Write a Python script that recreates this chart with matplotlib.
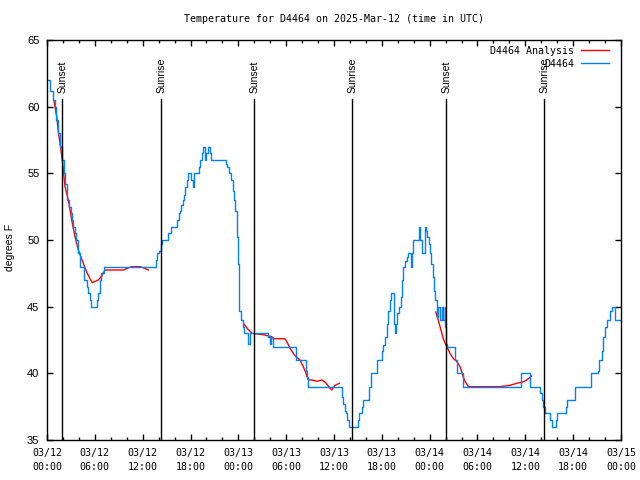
import matplotlib
matplotlib.use("Agg")
import matplotlib.pyplot as plt
import matplotlib.transforms as mtransforms
import numpy as np

# hours since 03/12 00:00 UTC and temperature (F), station readings
obs_hours = [0.13, 0.38, 0.75, 1.0, 1.19, 1.38, 1.63, 1.88, 2.07, 2.32, 2.57, 2.76, 2.95, 3.14,
             3.26, 3.51, 3.64, 3.83, 3.95, 4.14, 4.70, 5.02, 5.14, 5.39, 5.52, 6.27, 6.40, 6.59,
             6.77, 7.15, 13.67, 13.84, 14.09, 14.26, 14.39, 15.22, 15.52, 16.34, 16.52, 16.68,
             16.85, 17.02, 17.19, 17.35, 17.52, 17.69, 18.10, 18.28, 18.44, 19.07, 19.25, 19.44,
             19.63, 19.88, 19.99, 20.25, 20.45, 20.62, 22.45, 22.62, 22.79, 23.12, 23.30, 23.46,
             23.62, 23.80, 23.87, 23.96, 24.04, 24.12, 24.30, 24.62, 24.71, 25.21, 25.46, 27.76,
             27.97, 28.06, 28.39, 31.23, 32.49, 32.65, 32.78, 37.00, 37.17, 37.38, 37.51, 37.67,
             37.85, 39.05, 39.17, 39.48, 39.68, 40.43, 40.60, 41.36, 42.02, 42.18, 42.40, 42.61,
             42.81, 43.03, 43.11, 43.53, 43.65, 43.78, 43.94, 44.12, 44.37, 44.53, 44.69, 44.91,
             45.12, 45.28, 45.62, 45.79, 45.95, 46.63, 46.70, 46.85, 47.00, 47.29, 47.41, 47.54,
             47.70, 47.88, 48.04, 48.21, 48.38, 48.54, 48.71, 48.88, 49.05, 49.30, 49.51, 49.71,
             49.89, 49.96, 50.05, 50.21, 51.18, 51.39, 52.22, 59.42, 60.59, 61.84, 62.05, 62.26,
             62.47, 63.10, 63.31, 63.85, 64.01, 65.10, 65.27, 66.23, 68.20, 69.12, 69.28, 69.62,
             69.78, 69.99, 70.21, 70.62, 70.83, 71.25, 72.0]
obs_temps = [62, 61.2, 60.5, 60, 59, 58, 57, 56, 55, 54.2, 53, 52.5, 52, 51.5,
             51, 50.5, 50, 49.5, 49, 48, 47, 46.5, 46, 45.5, 45, 45.5, 46, 47,
             47.5, 48, 48.5, 49, 49.2, 49.7, 50, 50.5, 51, 51.5, 52, 52.2,
             52.6, 53, 53.4, 54, 54.5, 55, 54.5, 54, 55, 55.5, 56, 56.5,
             57, 56, 56.5, 57, 56.5, 56, 55.7, 55.5, 55, 54.5, 53.7, 53,
             52.2, 51.5, 50.2, 48.2, 46.7, 44.7, 44, 43.5, 43, 42.2, 43, 42.7,
             42.2, 42.7, 42, 41, 40.2, 39.7, 39, 38.2, 37.7, 37.2, 37, 36.5,
             36, 36.5, 37, 37.5, 38, 39, 40, 41, 41.7, 42.1, 42.7, 43.7,
             44.7, 45.5, 46, 43.7, 43, 43.7, 44.5, 45, 45.7, 47, 48, 48.4,
             48.7, 49, 48, 49, 50, 50.7, 51, 50, 49, 49, 51, 50.7,
             50.2, 49.7, 49, 48.2, 47.2, 46.2, 45.5, 44.2, 45, 44, 45, 44,
             45, 43.5, 42.2, 42, 41, 40, 39, 40, 39, 38.5, 38, 37.5,
             37, 36.5, 36, 36.5, 37, 37.5, 38, 39, 40, 40.2, 41, 41.7,
             42.7, 43.5, 44, 44.7, 45, 44, 44]

# analysis curve, three overnight pieces
ana1_hours = [0.88, 1.22, 1.44, 1.72, 1.97, 2.26, 2.67, 3.10, 3.51, 3.93, 4.55, 4.98, 5.39,
              5.68, 6.44, 6.86, 7.28, 9.57, 10.16, 10.62, 11.67, 12.17, 12.71]
ana1_temps = [60.4, 59.25, 58, 56.9, 55.75, 54, 53, 51.5, 50.25, 49.25, 48.25, 47.6, 47.1,
              46.8, 47, 47.3, 47.75, 47.75, 47.9, 48, 48, 47.9, 47.75]
ana2_hours = [24.71, 25.21, 25.72, 27.10, 28.19, 28.39, 29.85, 30.23, 30.48, 30.90, 31.23,
              31.74, 32.15, 32.49, 32.78, 33.24, 33.87, 34.46, 34.87, 35.29, 35.71, 36.13, 36.67]
ana2_temps = [43.7, 43.3, 43, 42.9, 42.75, 42.6, 42.6, 42.2, 41.9, 41.5, 41.25,
              41, 40.5, 40, 39.5, 39.5, 39.4, 39.5, 39.35, 39.05, 38.75, 39.1, 39.25]
ana3_hours = [48.76, 49.08, 49.30, 49.71, 50.14, 50.55, 50.97, 51.39, 51.81, 52.02, 52.22,
              52.43, 52.85, 56.82, 58.07, 58.91, 59.70, 60.17, 60.80]
ana3_temps = [44.6, 44, 43.5, 42.6, 42, 41.5, 41.1, 40.9, 40.5, 40.1, 39.75,
              39.4, 39, 39, 39.1, 39.25, 39.35, 39.5, 39.8]

sun_hours = [1.92, 14.34, 26.0, 38.3, 50.09, 62.38]
sun_labels = ['Sunset', 'Sunrise', 'Sunset', 'Sunrise', 'Sunset', 'Sunrise']

tick_hours = list(range(0, 73, 6))
tick_labels = ['03/12\n00:00', '03/12\n06:00', '03/12\n12:00', '03/12\n18:00',
               '03/13\n00:00', '03/13\n06:00', '03/13\n12:00', '03/13\n18:00',
               '03/14\n00:00', '03/14\n06:00', '03/14\n12:00', '03/14\n18:00',
               '03/15\n00:00']

mono = 'DejaVu Sans Mono'
sans = 'Liberation Sans'
plt.rcParams['font.family'] = [mono]
plt.rcParams['font.size'] = 7.2

fig = plt.figure(figsize=(6.4, 4.8), dpi=100)
ax = fig.add_axes([47 / 640, 40 / 480, 574 / 640, 400 / 480])

red = '#ff0000'
blue = '#0080ff'
ax.plot(ana1_hours, ana1_temps, color=red, lw=1, label='D4464 Analysis')
ax.plot(ana2_hours, ana2_temps, color=red, lw=1)
ax.plot(ana3_hours, ana3_temps, color=red, lw=1)
ax.plot(obs_hours, obs_temps, color=blue, lw=1, drawstyle='steps-post', label='D4464')

trans = mtransforms.blended_transform_factory(ax.transData, ax.transAxes)
for h, lab in zip(sun_hours, sun_labels):
    ax.plot([h, h], [0, 0.8525], color='black', lw=1, transform=trans)
    ax.text(h, 0.868, lab, rotation=90, ha='center', va='bottom', transform=trans,
            family=sans, fontsize=7.5)

ax.set_xlim(0, 72)
ax.set_ylim(35, 65)
ax.set_xticks(tick_hours)
ax.set_xticklabels(tick_labels, linespacing=1.5)
ax.set_xticks(np.arange(0, 73, 2), minor=True)
ax.set_yticks(np.arange(35, 66, 5))
for lab in ax.get_yticklabels():
    lab.set_family(sans)
    lab.set_fontsize(8)
ax.tick_params(which='both', direction='in', top=True, right=True, width=1)
ax.tick_params(which='major', length=4.5)
ax.tick_params(which='minor', length=2.5)
ax.tick_params(axis='x', which='major', pad=6)
ax.tick_params(axis='y', pad=5.5)
for sp in ax.spines.values():
    sp.set_linewidth(1)

ax.legend(loc='upper right', bbox_to_anchor=(1 - 12 / 574, 1 - 6 / 400), frameon=False,
          markerfirst=False, handlelength=2.8, borderaxespad=0, borderpad=0,
          labelspacing=0.3, handletextpad=0.7)

fig.text(334 / 640, 1 - 19 / 480, 'Temperature for D4464 on 2025-Mar-12 (time in UTC)',
         ha='center', va='center')
fig.text(10.5 / 640, 1 - 247 / 480, 'degrees F', rotation=90, ha='center', va='center',
         family=sans, fontsize=7.5)

fig.savefig('out.png', dpi=100)
